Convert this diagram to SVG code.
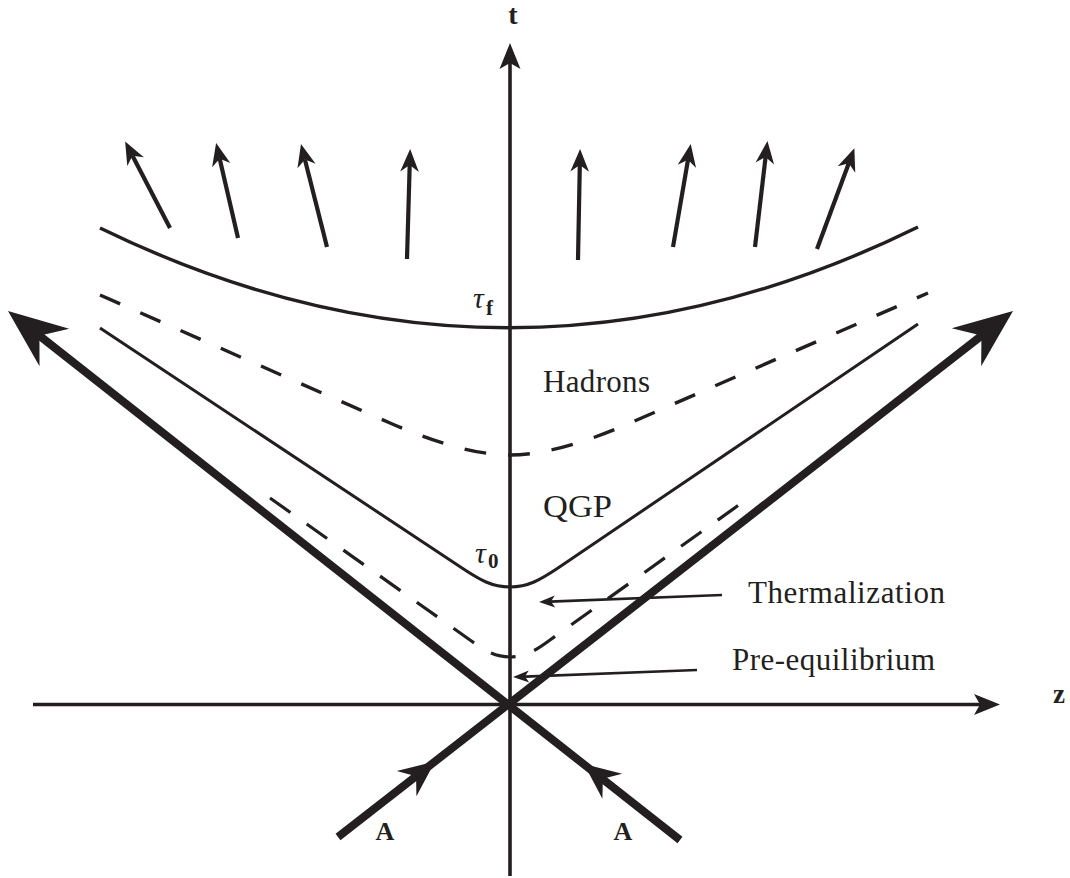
<svg xmlns="http://www.w3.org/2000/svg" xmlns:xlink="http://www.w3.org/1999/xlink" width="1070" height="878" viewBox="0 0 1070 878">
  <style>
    .txt { font-family: "Liberation Serif", "DejaVu Serif", serif; fill: #231f20; }
    .lbl { font-size: 31px; }
    .bold { font-weight: bold; }
    .axis { stroke: #231f20; stroke-width: 3.6; fill: none; }
    .beam { stroke: #231f20; stroke-width: 8; fill: none; }
    .curve { stroke: #231f20; stroke-width: 3.4; fill: none; }
    .thin { stroke: #231f20; stroke-width: 3; fill: none; }
    .dash1 { stroke: #231f20; stroke-width: 3.4; fill: none; stroke-dasharray: 22 22; }
    .dash2 { stroke: #231f20; stroke-width: 3.2; fill: none; stroke-dasharray: 25 20; }
    .flow { stroke: #231f20; stroke-width: 4.2; fill: none; }
    .ptr { stroke: #231f20; stroke-width: 2.6; fill: none; }
    .head { fill: #231f20; stroke: none; }
  </style>
  <defs>
    <path id="bigHead" d="M0,0 L-59,-24 L-40,0 L-59,24 Z"/>
    <path id="midHead" d="M0,0 L-36,-16 L-24,0 L-36,16 Z"/>
    <path id="axisHead" d="M0,0 L-26,-10.5 L-20,0 L-26,10.5 Z"/>
    <path id="ptrHead" d="M0,0 L-16,-6 L-12,0 L-16,6 Z"/>
    <marker id="flowHead" markerUnits="userSpaceOnUse" markerWidth="40" markerHeight="40" viewBox="-10 -10 30 20" refX="0" refY="0" orient="auto" overflow="visible">
      <path d="M12,0 L-5,-7 L0,0 L-5,7 Z" fill="#231f20"/>
    </marker>
  </defs>

  <g id="axes">
    <line class="axis" x1="510" y1="876" x2="510" y2="62"/>
    <use xlink:href="#axisHead" class="head" transform="translate(510,43) rotate(-90)"/>
    <line class="axis" x1="33" y1="704.5" x2="982" y2="704.5"/>
    <use xlink:href="#axisHead" class="head" transform="translate(1000,704.5)"/>
    <text class="txt bold" x="513" y="24" font-size="28" text-anchor="middle">t</text>
    <text class="txt bold" x="1059" y="703" font-size="27" text-anchor="middle">z</text>
  </g>

  <g id="freezeout">
    <path class="curve" d="M100,228 Q510,428 918,227"/>
    <text class="txt" x="473" y="308" font-size="30" font-style="italic">τ</text>
    <text class="txt bold" x="486" y="315" font-size="21">f</text>
  </g>

  <g id="hadronization">
    <path class="dash1" d="M100,295 L390,423 C440,445 480,455 510,455 C540,455 580,445 630,423 L928,293"/>
  </g>

  <g id="thermalization-surface">
    <path class="thin" d="M100,328 L462,568 C480,580 492,587 510,587 C528,587 540,580 558,568 L918,324"/>
    <text class="txt" x="475" y="563" font-size="30" font-style="italic">τ</text>
    <text class="txt bold" x="488" y="568" font-size="21">0</text>
  </g>

  <g id="preequilibrium-surface">
    <path class="dash2" d="M270,498 L470,640 C485,651 495,657 510,657 C525,657 535,651 550,640 L750,497"/>
  </g>

  <g id="beams">
    <line class="beam" x1="680" y1="840" x2="36" y2="333"/>
    <use xlink:href="#bigHead" class="head" transform="translate(8,311) rotate(-141.8)"/>
    <line class="beam" x1="338" y1="837" x2="985" y2="333"/>
    <use xlink:href="#bigHead" class="head" transform="translate(1013,311) rotate(-37.9)"/>
    <use xlink:href="#midHead" class="head" transform="translate(435,761.5) rotate(-37.9)"/>
    <use xlink:href="#midHead" class="head" transform="translate(584,764) rotate(-141.8)"/>
    <text class="txt bold" x="385" y="840" font-size="26" text-anchor="middle">A</text>
    <text class="txt bold" x="623" y="840" font-size="26" text-anchor="middle">A</text>
  </g>

  <g id="particles">
    <line class="flow" x1="170" y1="228" x2="132.5" y2="155.7" marker-end="url(#flowHead)"/>
    <line class="flow" x1="238" y1="238" x2="219.7" y2="158.7" marker-end="url(#flowHead)"/>
    <line class="flow" x1="327" y1="247" x2="304.9" y2="159.6" marker-end="url(#flowHead)"/>
    <line class="flow" x1="407" y1="259" x2="409.7" y2="165" marker-end="url(#flowHead)"/>
    <line class="flow" x1="578" y1="260" x2="579.8" y2="165" marker-end="url(#flowHead)"/>
    <line class="flow" x1="673" y1="247" x2="688" y2="159.8" marker-end="url(#flowHead)"/>
    <line class="flow" x1="755" y1="247" x2="765.6" y2="156.9" marker-end="url(#flowHead)"/>
    <line class="flow" x1="817" y1="249" x2="848.8" y2="163.2" marker-end="url(#flowHead)"/>
  </g>

  <g id="labels">
    <text class="txt lbl" x="543" y="392" textLength="107">Hadrons</text>
    <text class="txt lbl" x="543" y="517" textLength="69" lengthAdjust="spacingAndGlyphs">QGP</text>
  </g>

  <g id="connectors">
    <line class="ptr" x1="722" y1="595" x2="550" y2="601.6"/>
    <use xlink:href="#ptrHead" class="head" transform="translate(539,602) rotate(177.8)"/>
    <line class="ptr" x1="697" y1="670" x2="525" y2="676.6"/>
    <use xlink:href="#ptrHead" class="head" transform="translate(513,677) rotate(177.8)"/>
  </g>

  <g id="label-thermalization">
    <text class="txt lbl" x="748" y="603" textLength="197">Thermalization</text>
  </g>
  <g id="label-preequilibrium">
    <text class="txt lbl" x="732" y="670" textLength="203">Pre-equilibrium</text>
  </g>
</svg>
